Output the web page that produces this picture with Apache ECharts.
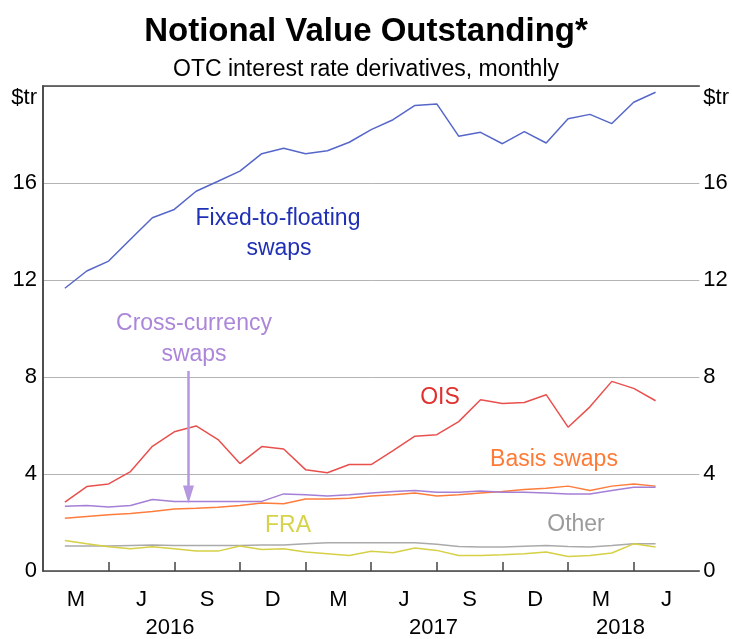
<!DOCTYPE html>
<html>
<head>
<meta charset="utf-8">
<script src="https://cdn.jsdelivr.net/npm/echarts@6/dist/echarts.min.js"></script>
<style>
	html, body { margin: 0; padding: 0; background: #fff; }
	#chart { width: 732px; height: 639px; }
</style>
</head>
<body>
<div id="chart"></div>
<script>
	// monthly observations, Mar 2016 - Jun 2018
	var months = ['2016-03','2016-04','2016-05','2016-06','2016-07','2016-08','2016-09','2016-10','2016-11','2016-12',
		'2017-01','2017-02','2017-03','2017-04','2017-05','2017-06','2017-07','2017-08','2017-09','2017-10','2017-11','2017-12',
		'2018-01','2018-02','2018-03','2018-04','2018-05','2018-06'];
	var fixedFloating = [11.66, 12.37, 12.78, 13.68, 14.57, 14.91, 15.66, 16.07, 16.49, 17.21,
		17.43, 17.21, 17.33, 17.68, 18.20, 18.61, 19.20, 19.26, 17.93, 18.09, 17.62, 18.12,
		17.65, 18.65, 18.83, 18.45, 19.33, 19.74];
	var ois = [2.84, 3.48, 3.59, 4.10, 5.14, 5.74, 5.98, 5.42, 4.43, 5.13,
		5.03, 4.18, 4.05, 4.39, 4.39, 4.96, 5.56, 5.62, 6.16, 7.06, 6.91, 6.95,
		7.27, 5.93, 6.77, 7.82, 7.53, 7.02];
	var crossCurrency = [2.67, 2.70, 2.64, 2.70, 2.95, 2.87, 2.87, 2.87, 2.87, 2.87,
		3.18, 3.14, 3.09, 3.14, 3.22, 3.28, 3.32, 3.25, 3.25, 3.30, 3.25, 3.25,
		3.22, 3.18, 3.18, 3.32, 3.45, 3.45];
	var basisSwaps = [2.18, 2.25, 2.32, 2.37, 2.45, 2.56, 2.59, 2.63, 2.70, 2.80,
		2.77, 2.97, 2.97, 3.00, 3.09, 3.14, 3.22, 3.09, 3.14, 3.22, 3.28, 3.36,
		3.41, 3.50, 3.32, 3.50, 3.59, 3.50];
	var other = [1.03, 1.03, 1.03, 1.05, 1.07, 1.05, 1.05, 1.05, 1.05, 1.07,
		1.07, 1.12, 1.16, 1.16, 1.16, 1.16, 1.16, 1.10, 1.01, 0.99, 0.99, 1.02,
		1.05, 1.01, 0.99, 1.05, 1.12, 1.12];
	var fra = [1.26, 1.12, 1.00, 0.92, 1.00, 0.92, 0.82, 0.82, 1.03, 0.89,
		0.92, 0.78, 0.71, 0.64, 0.81, 0.75, 0.95, 0.85, 0.64, 0.64, 0.67, 0.71,
		0.78, 0.60, 0.64, 0.74, 1.12, 0.99];

	// x axis runs Feb 2016 .. Jul 2018 in month units (0..30)
	var tickPos = [3, 6, 9, 12, 15, 18, 21, 24, 27];
	var monthLabels = ['M','J','S','D','M','J','S','D','M','J'];
	var monthLabelPos = [1.5, 4.5, 7.5, 10.5, 13.5, 16.5, 19.5, 22.5, 25.5, 28.5];
	var yearLabels = ['2016','2017','2018'];
	var yearLabelPos = [5.8, 17.85, 26.4];

	var font = 'Liberation Sans, Arial, sans-serif';

	function pairs(vals){
		var out = [];
		for(var i = 0; i < vals.length; i++){
			out.push([i + 1, vals[i]]);
		}
		return out;
	}
	function lineSeries(name, vals, color){
		return {
			name: name,
			type: 'line',
			xAxisIndex: 0,
			yAxisIndex: 0,
			symbol: 'none',
			lineStyle: { color: color, width: 1.5 },
			data: pairs(vals)
		};
	}
	function yLabel(v){
		return v === 20 ? '{u|$tr}' : v;
	}
	function note(text, x, y, color){
		return {
			type: 'text',
			x: x,
			y: y,
			style: { text: text, fill: color, font: '23px ' + font, align: 'center', verticalAlign: 'middle' }
		};
	}

	var chart = echarts.init(document.getElementById('chart'));
	var labelStyle = { color: '#000', fontSize: 22, fontFamily: font };

	var crossSeries = lineSeries('Cross-currency swaps', crossCurrency, '#a47fd6');
	crossSeries.markLine = {
		silent: true,
		symbol: ['none', 'triangle'],
		symbolSize: [11, 18],
		label: { show: false },
		lineStyle: { color: '#b598e0', width: 2.5, type: 'solid' },
		data: [[{ coord: [6.65, 8.25] }, { coord: [6.65, 3.15] }]]
	};

	var option = {
		animation: false,
		title: [{
			text: 'Notional Value Outstanding*',
			left: 'center',
			top: 10,
			textStyle: { fontSize: 33, fontWeight: 'bold', color: '#000', fontFamily: font }
		},{
			text: 'OTC interest rate derivatives, monthly',
			left: 'center',
			top: 53,
			textStyle: { fontSize: 23, fontWeight: 'normal', color: '#000', fontFamily: font }
		}],
		grid: { left: 43, right: 30, top: 86, bottom: 67 },
		xAxis: [{
			type: 'value',
			min: 0,
			max: 30,
			position: 'bottom',
			splitLine: { show: false },
			axisLine: { show: true, lineStyle: { color: '#444', width: 1.5 } },
			axisTick: { show: true, inside: true, length: 9, customValues: tickPos, lineStyle: { color: '#444', width: 1.5 } },
			axisLabel: Object.assign({
				customValues: monthLabelPos,
				margin: 18,
				formatter: function(v){ return monthLabels[monthLabelPos.indexOf(v)]; }
			}, labelStyle)
		},{
			type: 'value',
			min: 0,
			max: 30,
			position: 'bottom',
			splitLine: { show: false },
			axisLine: { show: false },
			axisTick: { show: false },
			axisLabel: Object.assign({
				customValues: yearLabelPos,
				margin: 46,
				formatter: function(v){ return yearLabels[yearLabelPos.indexOf(v)]; }
			}, labelStyle)
		},{
			type: 'value',
			min: 0,
			max: 30,
			position: 'top',
			splitLine: { show: false },
			axisLine: { show: true, lineStyle: { color: '#444', width: 1.5 } },
			axisTick: { show: false },
			axisLabel: { show: false }
		}],
		yAxis: [{
			type: 'value',
			min: 0,
			max: 20,
			interval: 4,
			position: 'left',
			axisLine: { show: true, lineStyle: { color: '#444', width: 1.5 } },
			axisTick: { show: false },
			splitLine: { show: true, lineStyle: { color: '#b4b4b4', width: 1 } },
			axisLabel: Object.assign({
				margin: 6,
				formatter: yLabel,
				rich: { u: { fontSize: 22, fontFamily: font, color: '#000', padding: [24, 0, 0, 0] } }
			}, labelStyle)
		},{
			type: 'value',
			min: 0,
			max: 20,
			interval: 4,
			position: 'right',
			axisLine: { show: true, lineStyle: { color: '#444', width: 1.5 } },
			axisTick: { show: false },
			splitLine: { show: false },
			axisLabel: Object.assign({
				margin: 4,
				formatter: yLabel,
				rich: { u: { fontSize: 22, fontFamily: font, color: '#000', padding: [24, 0, 0, 0] } }
			}, labelStyle)
		}],
		series: [
			lineSeries('Other', other, '#aaaaaa'),
			lineSeries('FRA', fra, '#d6d046'),
			lineSeries('Basis swaps', basisSwaps, '#ff7d3c'),
			crossSeries,
			lineSeries('OIS', ois, '#e8504e'),
			lineSeries('Fixed-to-floating swaps', fixedFloating, '#5667c9')
		],
		graphic: [
			note('Fixed-to-floating', 278, 219, '#1f30b5'),
			note('swaps', 279, 249, '#1f30b5'),
			note('Cross-currency', 194, 324, '#ab86d9'),
			note('swaps', 194, 355, '#ab86d9'),
			note('OIS', 440, 398, '#e0302f'),
			note('Basis swaps', 554, 460, '#ff7a35'),
			note('FRA', 288, 526, '#d6d24a'),
			note('Other', 576, 525, '#9b9b9b')
		]
	};
	chart.setOption(option);
</script>
</body>
</html>
